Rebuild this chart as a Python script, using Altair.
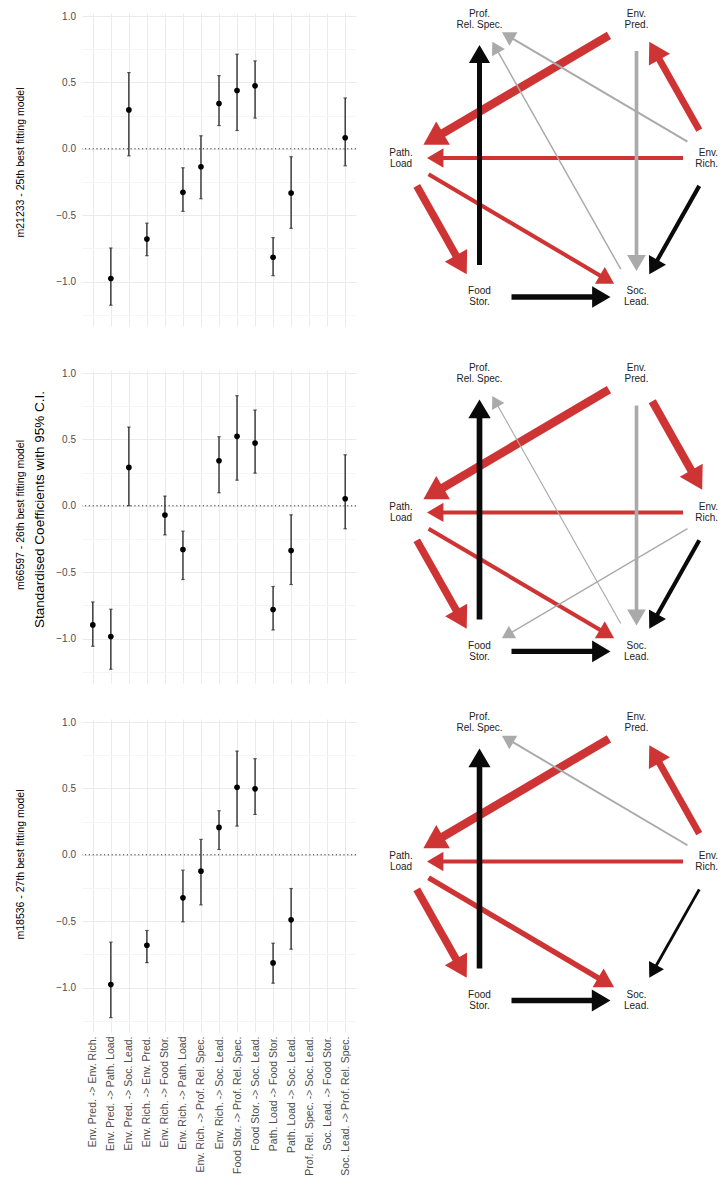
import math
import altair as alt
import pandas as pd

# ---------------- data ----------------
EDGES = [
    "Env. Pred. -> Env. Rich.",
    "Env. Pred. -> Path. Load",
    "Env. Pred. -> Soc. Lead.",
    "Env. Rich. -> Env. Pred.",
    "Env. Rich. -> Food Stor.",
    "Env. Rich. -> Path. Load",
    "Env. Rich. -> Prof. Rel. Spec.",
    "Env. Rich. -> Soc. Lead.",
    "Food Stor. -> Prof. Rel. Spec.",
    "Food Stor. -> Soc. Lead.",
    "Path. Load -> Food Stor.",
    "Path. Load -> Soc. Lead.",
    "Prof. Rel. Spec. -> Soc. Lead.",
    "Soc. Lead. -> Food Stor.",
    "Soc. Lead. -> Prof. Rel. Spec.",
]

MODEL_TITLES = [
    "m21233 - 25th best fitting model",
    "m66597 - 26th best fitting model",
    "m18536 - 27th best fitting model",
]
Y_TITLE = "Standardised Coefficients with 95% C.I."

M1_EST = [None, -0.977, 0.293, -0.680, None, -0.328, -0.135, 0.341, 0.439, 0.474, -0.817, -0.333, None, None, 0.083]
M1_LO = [None, -1.178, -0.053, -0.805, None, -0.471, -0.376, 0.175, 0.138, 0.231, -0.955, -0.599, None, None, -0.128]
M1_HI = [None, -0.747, 0.574, -0.560, None, -0.143, 0.098, 0.551, 0.712, 0.662, -0.669, -0.060, None, None, 0.383]

M2_EST = [-0.897, -0.985, 0.289, None, -0.070, -0.329, None, 0.339, 0.523, 0.472, -0.781, -0.337, None, None, 0.053]
M2_LO = [-1.058, -1.231, 0.000, None, -0.219, -0.555, None, 0.098, 0.193, 0.246, -0.935, -0.593, None, None, -0.173]
M2_HI = [-0.724, -0.779, 0.593, None, 0.073, -0.191, None, 0.520, 0.829, 0.721, -0.608, -0.068, None, None, 0.384]

M3_EST = [None, -0.977, None, -0.681, None, -0.324, -0.123, 0.206, 0.508, 0.497, -0.814, -0.490, None, None, None]
M3_LO = [None, -1.226, None, -0.812, None, -0.505, -0.377, 0.040, 0.216, 0.304, -0.967, -0.711, None, None, None]
M3_HI = [None, -0.658, None, -0.570, None, -0.116, 0.116, 0.332, 0.781, 0.724, -0.666, -0.254, None, None, None]

EST = [M1_EST, M2_EST, M3_EST]
LO = [M1_LO, M2_LO, M3_LO]
HI = [M1_HI, M2_HI, M3_HI]

Y_TICKS = [-1.25, -1.0, -0.75, -0.5, -0.25, 0.0, 0.25, 0.5, 0.75, 1.0]

# network nodes, placed round a hexagon (node i at 60*i degrees)
NODES = ["Env. Rich.", "Env. Pred.", "Prof. Rel. Spec.", "Path. Load", "Food Stor.", "Soc. Lead."]
NODE_LINE1 = ["Env.", "Env.", "Prof.", "Path.", "Food", "Soc."]
NODE_LINE2 = ["Rich.", "Pred.", "Rel. Spec.", "Load", "Stor.", "Lead."]

# ---------------- layout / style ----------------
FONT = "Liberation Sans"
PW, PH = 274, 313
Y_DOMAIN = [-1.3344, 1.0226]
NET_GAP = 10
NET_W = 352
NET_H = [339, 332, 330]
NET_CX = 191
NET_CY = [145.0, 142.4, 142.5]
RX, RY = 157, 160.5
START_GAP, END_GAP = 32, 26
RED, GREY, BLACK = "#CF3434", "#AAAAAA", "#0A0A0A"
ARROW = "M0,0L1,1.7L-1,1.7Z"
TITLE_OFFSET = [29.5, 6, 29.5]
TITLE_DX = [7, 11.5, 11]

MAJOR = "abs(datum.value*2 - round(datum.value*2)) < 0.001"


def coef_panel(k):
    df = pd.DataFrame({"edge": EDGES, "est": EST[k], "lo": LO[k], "hi": HI[k]}).dropna()
    last = k == 2
    xaxis = alt.Axis(
        labels=last, ticks=False, domain=False, title=None, grid=True,
        gridColor="#EBEBEB", gridWidth=1,
        labelAngle=270, labelAlign="right", labelBaseline="middle",
        labelPadding=4, labelFontSize=10.5, labelColor="#4D4D4D", labelFont=FONT,
        labelLimit=300,
    )
    xenc = alt.X("edge:N", sort=EDGES,
                 scale=alt.Scale(type="point", domain=EDGES, padding=0.6),
                 axis=xaxis)
    ykw = dict(
        values=Y_TICKS, labelExpr=MAJOR + " ? format(datum.value, '.1f') : ''",
        grid=True,
        gridColor={"condition": {"test": MAJOR, "value": "#EBEBEB"}, "value": "#F5F5F5"},
        gridWidth=1, domain=False, ticks=False, tickSize=0, labelPadding=6.5,
        labelFontSize=10, labelColor="#4D4D4D", labelFont=FONT,
    )
    if k == 1:
        yaxis = alt.Axis(title=Y_TITLE, titleFontSize=13.5, titleFont=FONT,
                         titleFontWeight="normal", titleColor="black",
                         titleAngle=270, titleAlign="center", titleBaseline="middle",
                         titleX=-42.5, titleY=PH / 2 - 17.5, **ykw)
    else:
        yaxis = alt.Axis(title=None, **ykw)
    yscale = alt.Scale(domain=Y_DOMAIN, nice=False, zero=False)

    def Y(f):
        return alt.Y(f, scale=yscale, axis=yaxis)

    base = alt.Chart(df)
    zero = alt.Chart(pd.DataFrame({"z": [0.0]})).mark_rule(
        color="#333333", strokeWidth=1, strokeDash=[1.2, 2.6]
    ).encode(y=Y("z:Q"))
    bars = base.mark_rule(color="#222222", strokeWidth=1.3).encode(x=xenc, y=Y("lo:Q"), y2="hi:Q")
    cap_lo = base.mark_tick(color="#222222", size=3.5, thickness=1.2).encode(x=xenc, y=Y("lo:Q"))
    cap_hi = base.mark_tick(color="#222222", size=3.5, thickness=1.2).encode(x=xenc, y=Y("hi:Q"))
    pts = base.mark_circle(color="black", size=32, opacity=1).encode(x=xenc, y=Y("est:Q"))
    return alt.layer(zero, bars, cap_lo, cap_hi, pts).properties(
        width=PW, height=PH,
        title=alt.TitleParams(text=MODEL_TITLES[k], orient="left", anchor="middle",
                              fontSize=10.5, font=FONT, fontWeight="normal",
                              color="black", offset=TITLE_OFFSET[k], dx=TITLE_DX[k]),
    )


def net_panel(k):
    cy = NET_CY[k]
    H = NET_H[k]
    pos = {}
    for i, n in enumerate(NODES):
        a = math.radians(60 * i)
        pos[n] = (NET_CX + RX * math.cos(a), cy - RY * math.sin(a))
    rows = []
    for e, est, lo, hi in zip(EDGES, EST[k], LO[k], HI[k]):
        if est is None:
            continue
        src, dst = e.split(" -> ")
        (x0, y0), (x1, y1) = pos[src], pos[dst]
        L = math.hypot(x1 - x0, y1 - y0)
        ux, uy = (x1 - x0) / L, (y1 - y0) / L
        c = abs(est)
        w = 0.5 + 12 * c - 4 * c * c
        hw = 13 + 22 * c - 8 * c * c
        hl = 0.85 * hw
        tx, ty = x1 - ux * END_GAP, y1 - uy * END_GAP
        if lo <= 0 <= hi:
            col, rank = GREY, 1
        elif est < 0:
            col, rank = RED, 0
        else:
            col, rank = BLACK, 2
        rows.append(dict(
            sx=x0 + ux * START_GAP, sy=y0 + uy * START_GAP,
            bx=tx - ux * (hl - 1), by=ty - uy * (hl - 1),
            tx=tx, ty=ty, w=w, sz=hw * hw,
            ang=math.degrees(math.atan2(ux, -uy)) % 360,
            col=col, rank=rank,
        ))
    df = pd.DataFrame(rows).sort_values("rank", kind="stable")
    # the right-hand node sits on the panel edge: its label is right-aligned to the edge
    lab_x = [pos[n][0] if n != "Env. Rich." else NET_W - 1 for n in NODES]
    lab = pd.DataFrame({"x": lab_x,
                        "y": [pos[n][1] for n in NODES],
                        "t1": NODE_LINE1, "t2": NODE_LINE2, "node": NODES})

    xs = alt.Scale(domain=[0, NET_W], nice=False, zero=False)
    ys = alt.Scale(domain=[0, H], nice=False, zero=False, reverse=True)
    X = alt.X("x:Q", scale=xs, axis=None)
    Yl = alt.Y("y:Q", scale=ys, axis=None)

    shafts = alt.Chart(df).mark_rule(strokeCap="butt").encode(
        x=alt.X("sx:Q", scale=xs, axis=None), y=alt.Y("sy:Q", scale=ys, axis=None),
        x2="bx:Q", y2="by:Q",
        color=alt.Color("col:N", scale=None),
        strokeWidth=alt.StrokeWidth("w:Q", scale=None),
    )
    heads = alt.Chart(df).mark_point(shape=ARROW, filled=True, opacity=1, strokeWidth=0).encode(
        x=alt.X("tx:Q", scale=xs, axis=None), y=alt.Y("ty:Q", scale=ys, axis=None),
        angle=alt.Angle("ang:Q", scale=None),
        size=alt.Size("sz:Q", scale=None),
        color=alt.Color("col:N", scale=None),
    )
    txt_kw = dict(font=FONT, fontSize=10, baseline="middle", color="#222222")
    inner = alt.Chart(lab).transform_filter("datum.node != 'Env. Rich.'")
    edge = alt.Chart(lab).transform_filter("datum.node == 'Env. Rich.'")
    l1 = inner.mark_text(dy=-5.5, align="center", **txt_kw).encode(x=X, y=Yl, text="t1:N")
    l2 = inner.mark_text(dy=5.5, align="center", **txt_kw).encode(x=X, y=Yl, text="t2:N")
    e1 = edge.mark_text(dy=-5.5, align="right", **txt_kw).encode(x=X, y=Yl, text="t1:N")
    e2 = edge.mark_text(dy=5.5, align="right", **txt_kw).encode(x=X, y=Yl, text="t2:N")
    return alt.layer(shafts, heads, l1, l2, e1, e2).properties(width=NET_W, height=H)


rows = [
    alt.hconcat(coef_panel(k), net_panel(k), spacing=NET_GAP).resolve_scale(
        x="independent", y="independent")
    for k in range(3)
]
chart = alt.vconcat(*rows, spacing=10).resolve_scale(
    x="independent", y="independent"
).properties(
    padding={"left": 7, "top": 0, "right": 0, "bottom": 0}
).configure_view(stroke=None)

chart.save("out.html", embed_options={"renderer": "svg", "actions": False})
